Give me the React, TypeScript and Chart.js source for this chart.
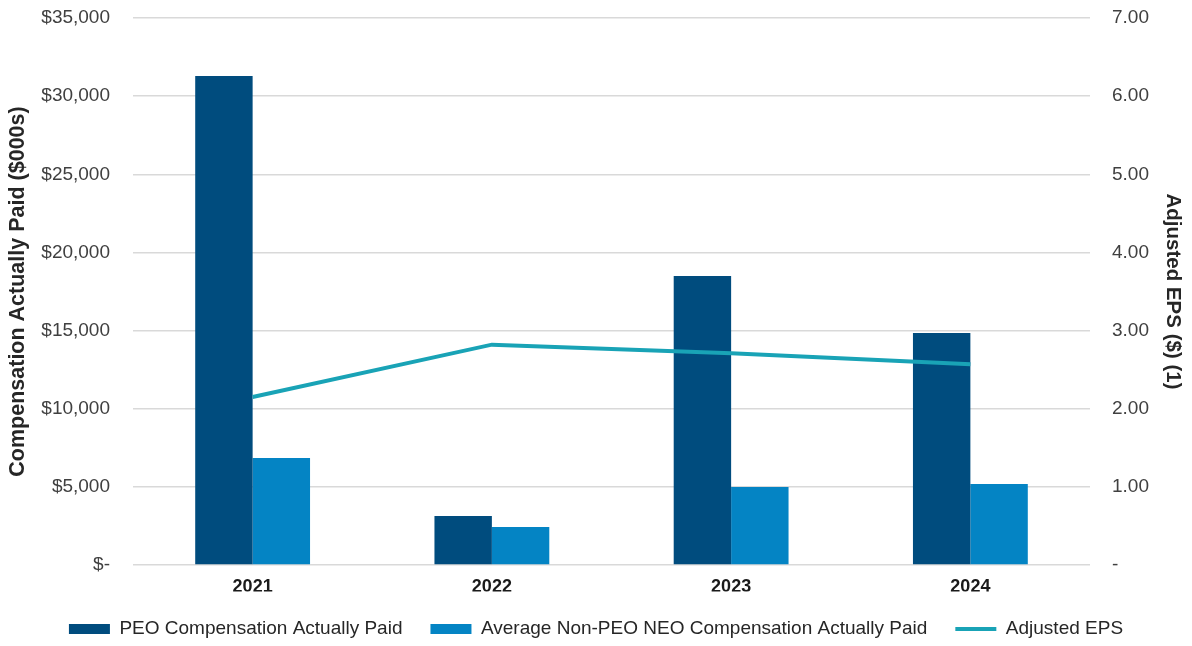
import React, { useEffect, useRef } from "react";
import { Chart, registerables } from "chart.js";

Chart.register(...registerables);

const years = ["2021", "2022", "2023", "2024"];
const peoCap = [31290, 3130, 18490, 14840];
const neoCap = [6850, 2430, 4990, 5180];
const adjustedEps = [2.15, 2.82, 2.71, 2.57];
const leftTicks = [0, 5000, 10000, 15000, 20000, 25000, 30000, 35000];
const rightTicks = [0, 1, 2, 3, 4, 5, 6, 7];

const PEO_COLOR = "#004C7E";
const NEO_COLOR = "#0484C4";
const EPS_COLOR = "#19A3B6";
const FONT = "'Liberation Sans', Arial, sans-serif";

export default function App() {
  const ref = useRef<HTMLCanvasElement>(null);
  useEffect(() => {
    if (!ref.current) return;
    const chart = new Chart(ref.current, {
      type: "bar",
      data: {
        labels: years,
        datasets: [
          {
            type: "bar",
            label: "PEO Compensation Actually Paid",
            data: peoCap,
            backgroundColor: PEO_COLOR,
            yAxisID: "y",
            order: 2,
            categoryPercentage: 0.48,
            barPercentage: 1,
          },
          {
            type: "bar",
            label: "Average Non-PEO NEO Compensation Actually Paid",
            data: neoCap,
            backgroundColor: NEO_COLOR,
            yAxisID: "y",
            order: 2,
            categoryPercentage: 0.48,
            barPercentage: 1,
          },
          {
            type: "line",
            label: "Adjusted EPS",
            data: adjustedEps,
            borderColor: EPS_COLOR,
            backgroundColor: EPS_COLOR,
            borderWidth: 4,
            pointRadius: 0,
            pointHoverRadius: 0,
            tension: 0,
            yAxisID: "y1",
            order: 0,
          } as any,
        ],
      },
      options: {
        animation: false,
        responsive: false,
        maintainAspectRatio: false,
        layout: { autoPadding: false, padding: { left: 0, right: 0, top: 18, bottom: -2.5 } },
        plugins: {
          tooltip: { enabled: false },
          legend: {
            position: "bottom",
            labels: {
              font: { family: FONT, size: 19 },
              color: "#262626",
              usePointStyle: true,
              pointStyleWidth: 41,
              boxHeight: 10,
              padding: 28,
              generateLabels: () => [
                {
                  text: "PEO Compensation Actually Paid",
                  fillStyle: PEO_COLOR,
                  strokeStyle: PEO_COLOR,
                  lineWidth: 0,
                  pointStyle: "rect",
                  datasetIndex: 0,
                  hidden: false,
                  fontColor: "#262626",
                },
                {
                  text: "Average Non-PEO NEO Compensation Actually Paid",
                  fillStyle: NEO_COLOR,
                  strokeStyle: NEO_COLOR,
                  lineWidth: 0,
                  pointStyle: "rect",
                  datasetIndex: 1,
                  hidden: false,
                  fontColor: "#262626",
                },
                {
                  text: "Adjusted EPS",
                  fillStyle: EPS_COLOR,
                  strokeStyle: EPS_COLOR,
                  lineWidth: 4,
                  pointStyle: "line",
                  datasetIndex: 2,
                  hidden: false,
                  fontColor: "#262626",
                },
              ] as any,
            },
          },
        },
        scales: {
          x: {
            grid: { display: false, drawTicks: false },
            border: { display: false },
            ticks: {
              font: { family: FONT, size: 18, weight: "bold" },
              color: "#1a1a1a",
              padding: 11,
            },
            afterFit: (axis: any) => {
              axis.height = 26.5;
              axis.paddingLeft = 0;
              axis.paddingRight = 0;
            },
          },
          y: {
            position: "left",
            min: 0,
            max: 35000,
            afterBuildTicks: (axis: any) => {
              axis.ticks = leftTicks.map((v) => ({ value: v }));
            },
            afterFit: (axis: any) => {
              axis.width = 133;
              axis.paddingTop = 0;
              axis.paddingBottom = 0;
            },
            grid: { color: "#D9D9D9", lineWidth: 1.5, drawTicks: false },
            border: { display: false },
            ticks: {
              font: { family: FONT, size: 19 },
              color: "#404040",
              padding: 23,
              callback: (v: any) =>
                Number(v) === 0 ? "$-" : "$" + Number(v).toLocaleString("en-US"),
            },
            title: {
              display: true,
              text: "Compensation Actually Paid ($000s)",
              font: { family: FONT, size: 21.5, weight: "bold" },
              color: "#262626",
              padding: { top: 5, bottom: 0 },
            },
          },
          y1: {
            position: "right",
            min: 0,
            max: 7,
            afterBuildTicks: (axis: any) => {
              axis.ticks = rightTicks.map((v) => ({ value: v }));
            },
            afterFit: (axis: any) => {
              axis.width = 102;
              axis.paddingTop = 0;
              axis.paddingBottom = 0;
            },
            grid: { display: false, drawTicks: false },
            border: { display: false },
            ticks: {
              font: { family: FONT, size: 19 },
              color: "#404040",
              padding: 22,
              callback: (v: any) => (Number(v) === 0 ? "-" : Number(v).toFixed(2)),
            },
            title: {
              display: true,
              text: "Adjusted EPS ($) (1)",
              font: { family: FONT, size: 20.5, weight: "bold" },
              color: "#262626",
              padding: { top: 6.7, bottom: 0 },
            },
          },
        },
      },
    });
    return () => chart.destroy();
  }, []);
  return (
    <div style={{ position: "absolute", left: 0, top: 0, width: 1192, height: 646, background: "#fff" }}>
      <canvas ref={ref} width={1192} height={646} style={{ width: 1192, height: 646 }} />
    </div>
  );
}
